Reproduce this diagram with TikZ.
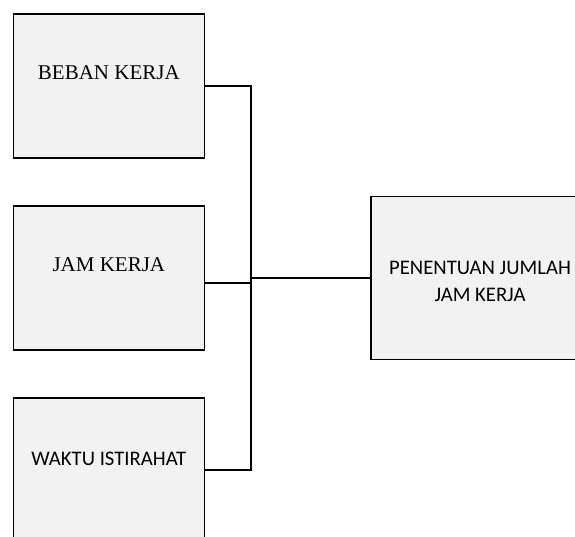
\documentclass[tikz,border=0pt]{standalone}
\usepackage{fontspec}
\setmainfont{Liberation Serif}
\newfontfamily\calibrilike{Carlito}
\usetikzlibrary{calc}
\definecolor{boxfill}{HTML}{F2F2F2}
\tikzset{
  box/.style={draw=black, fill=boxfill, line width=1.7pt, inner sep=0pt, anchor=north west},
  serifText/.style={font=\fontsize{21}{26}\selectfont, inner sep=0pt},
  sansText/.style={font=\calibrilike\fontsize{20.7}{27}\selectfont, inner sep=0pt, align=center},
  link/.style={draw=black, line width=1.6pt}
}
\begin{document}
\begin{tikzpicture}[x=1pt, y=-1pt]
  \useasboundingbox (0,0) rectangle (575,536);
  \clip (0,0) rectangle (575,536);

  % input boxes
  \node[box, minimum width=191pt, minimum height=144pt] (beban) at (12.5,13) {};
  \node[box, minimum width=191pt, minimum height=144pt] (jam) at (12.5,205) {};
  \node[box, minimum width=191pt, minimum height=144pt] (waktu) at (12.5,397) {};
  % result box
  \node[box, minimum width=220pt, minimum height=163pt] (hasil) at (370,195.5) {};

  % labels
  \node[serifText] (tbeban) at ($(beban.center)+(0,-13)$) {BEBAN KERJA};
  \node[serifText] (tjam) at ($(jam.center)+(0,-13)$) {JAM KERJA};
  \node[sansText] (twaktu) at ($(waktu.center)+(0,-11)$) {WAKTU ISTIRAHAT};
  \node[sansText] (thasil) at (480,281) {PENENTUAN JUMLAH\\JAM KERJA};

  % connectors
  \coordinate (bus) at (251,0);
  \draw[link] (beban.east) -| (bus |- waktu.east) -- (waktu.east);
  \draw[link] ($(jam.east)+(0,5)$) -- (bus |- {$(jam.east)+(0,5)$});
  \draw[link] (bus |- hasil.west) -- (hasil.west);
\end{tikzpicture}
\end{document}
